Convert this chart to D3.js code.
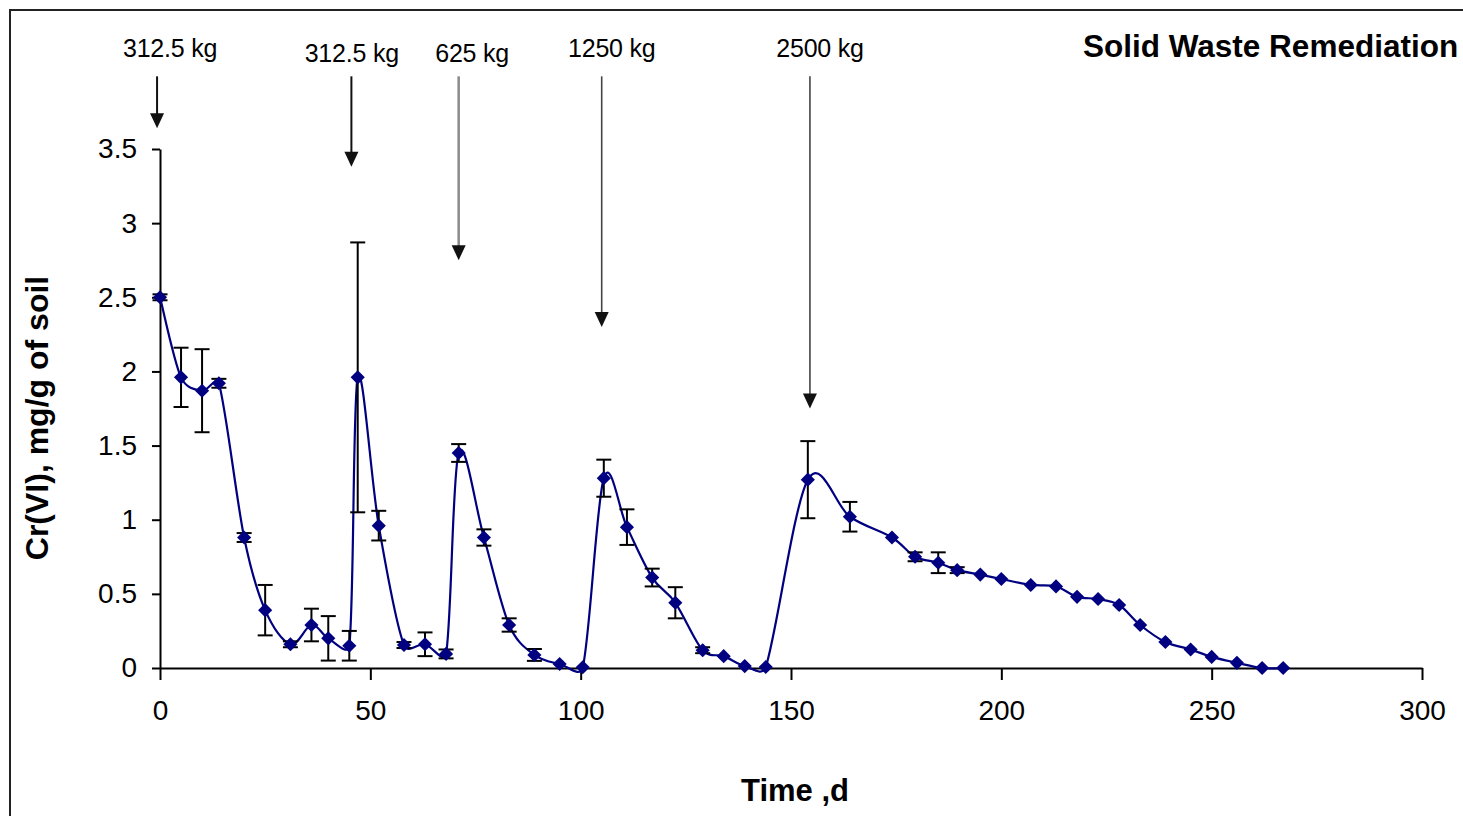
<!DOCTYPE html>
<html>
<head>
<meta charset="utf-8">
<script src="https://cdn.jsdelivr.net/npm/d3@7"></script>
<style>
  html, body { margin: 0; padding: 0; background: #fff; }
  svg { display: block; }
  text { font-family: Arial, "Liberation Sans", sans-serif; }
</style>
</head>
<body>
<svg id="chart" width="1463" height="816"></svg>
<script>
// Sampling days
const days = [0, 5, 10, 14, 20, 25, 31, 36, 40, 45, 47, 52, 58, 63, 68, 71, 77, 83, 89, 95,
              100.5, 105.5, 111, 117, 122.5, 129, 134, 139, 144, 154, 164, 174, 179.5, 185,
              189.5, 195, 200, 207, 213, 218, 223, 228, 233, 239, 245, 250, 256, 262, 267];
// Cr(VI) concentration, mg/g of soil
const crVI = [2.50, 1.96, 1.87, 1.92, 0.88, 0.39, 0.16, 0.29, 0.20, 0.15, 1.96, 0.96, 0.155, 0.16, 0.095, 1.45, 0.88, 0.29, 0.088, 0.027,
              0.005, 1.28, 0.95, 0.61, 0.44, 0.12, 0.08, 0.013, 0.007, 1.27, 1.02, 0.88, 0.75, 0.71,
              0.66, 0.63, 0.60, 0.56, 0.55, 0.48, 0.465, 0.425, 0.29, 0.175, 0.125, 0.075, 0.035, 0.0, 0.0];
// Standard deviation (0 = no bar)
const crErr = [0.02, 0.20, 0.28, 0.03, 0.03, 0.17, 0.02, 0.11, 0.15, 0.10, 0.91, 0.10, 0.02, 0.08, 0.03, 0.06, 0.055, 0.045, 0.04, 0,
               0, 0.125, 0.12, 0.06, 0.105, 0.02, 0, 0, 0, 0.26, 0.10, 0, 0.03, 0.07,
               0.02, 0, 0, 0, 0, 0, 0, 0, 0, 0, 0, 0, 0, 0, 0];

// Waste additions
const doseLabels = ["312.5 kg", "312.5 kg", "625 kg", "1250 kg", "2500 kg"];
const doseDay = [-0.7, 45.5, 71, 105, 154.5];
const doseLabelDay = [2.4, 45.6, 74.2, 107.4, 156.9];
const doseArrowTip = [3.64, 3.38, 2.75, 2.30, 1.75];
const doseArrowTop = 3.99;

const xTicks = [0, 50, 100, 150, 200, 250, 300];
const yTicks = [0, 0.5, 1, 1.5, 2, 2.5, 3, 3.5];

const chartTitle = "Solid Waste Remediation";
const xTitle = "Time ,d";
const yTitle = "Cr(VI), mg/g of soil";

// Spreadsheet-style smoothed line: cubic Bezier segments with control
// arms of 1/6 of the neighbour chord, clamped to half the segment length.
function SmoothSheet(context) { this._context = context; }
SmoothSheet.prototype = {
  areaStart() { this._line = 0; },
  areaEnd() { this._line = NaN; },
  lineStart() { this._pts = []; },
  point(px, py) { this._pts.push([+px, +py]); },
  lineEnd() {
    const p = this._pts, n = p.length, c = this._context;
    if (!n) return;
    const dist = (a, b) => Math.hypot(b[0] - a[0], b[1] - a[1]);
    c.moveTo(p[0][0], p[0][1]);
    for (let i = 0; i < n - 1; i++) {
      const p0 = p[Math.max(i - 1, 0)], p1 = p[i], p2 = p[i + 1], p3 = p[Math.min(i + 2, n - 1)];
      const d12 = dist(p1, p2), d02 = dist(p0, p2), d13 = dist(p1, p3);
      let f1 = 1 / 6, f2 = 1 / 6;
      if (d02 > 0 && d02 / 6 > d12 / 2) f1 = (d12 / 2) / d02;
      if (d13 > 0 && d13 / 6 > d12 / 2) f2 = (d12 / 2) / d13;
      c.bezierCurveTo(
        p1[0] + (p2[0] - p0[0]) * f1, p1[1] + (p2[1] - p0[1]) * f1,
        p2[0] - (p3[0] - p1[0]) * f2, p2[1] - (p3[1] - p1[1]) * f2,
        p2[0], p2[1]);
    }
  }
};
const curveSmoothSheet = ctx => new SmoothSheet(ctx);

const svg = d3.select("#chart");

// outer frame
svg.append("rect")
  .attr("x", 10).attr("y", 10)
  .attr("width", 1480).attr("height", 830)
  .attr("fill", "none").attr("stroke", "#222").attr("stroke-width", 2);

const x = d3.scaleLinear().domain([0, 300]).range([160, 1422]);
const y = d3.scaleLinear().domain([0, 3.5]).range([668, 149]);

// axes
const xAxis = svg.append("g")
  .attr("transform", `translate(0,${y(0)})`)
  .call(d3.axisBottom(x).tickValues(xTicks).tickSize(12).tickSizeOuter(0).tickPadding(20).tickFormat(d => String(d)));
const yAxis = svg.append("g")
  .attr("transform", `translate(${x(0)},0)`)
  .call(d3.axisLeft(y).tickValues(yTicks).tickSize(8).tickSizeOuter(0).tickPadding(15).tickFormat(d => String(d)));

[xAxis, yAxis].forEach(g => {
  g.select(".domain").attr("stroke", "#000").attr("stroke-width", 2);
  g.selectAll(".tick line").attr("stroke", "#000").attr("stroke-width", 2);
  g.selectAll(".tick text")
    .attr("fill", "#000")
    .style("font-family", 'Arial, "Liberation Sans", sans-serif')
    .style("font-size", "28px");
});

// series line
const pts = days.map((d, i) => ({ t: d, v: crVI[i], e: crErr[i] }));
const line = d3.line()
  .x(d => x(d.t))
  .y(d => y(d.v))
  .curve(curveSmoothSheet);

svg.append("path")
  .datum(pts)
  .attr("d", line)
  .attr("fill", "none")
  .attr("stroke", "#000080")
  .attr("stroke-width", 2.2);

// error bars
const eb = svg.append("g").attr("stroke", "#000").attr("stroke-width", 2);
const withErr = pts.filter(d => d.e > 0);
eb.selectAll("line.bar").data(withErr).join("line")
  .attr("x1", d => x(d.t)).attr("x2", d => x(d.t))
  .attr("y1", d => y(d.v + d.e)).attr("y2", d => y(d.v - d.e));
eb.selectAll("line.capTop").data(withErr).join("line")
  .attr("x1", d => x(d.t) - 7.5).attr("x2", d => x(d.t) + 7.5)
  .attr("y1", d => y(d.v + d.e)).attr("y2", d => y(d.v + d.e));
eb.selectAll("line.capBot").data(withErr).join("line")
  .attr("x1", d => x(d.t) - 7.5).attr("x2", d => x(d.t) + 7.5)
  .attr("y1", d => y(d.v - d.e)).attr("y2", d => y(d.v - d.e));

// diamond markers
const diamond = {
  draw(ctx, size) {
    const r = Math.sqrt(size / 2);
    ctx.moveTo(0, -r); ctx.lineTo(r, 0); ctx.lineTo(0, r); ctx.lineTo(-r, 0); ctx.closePath();
  }
};
svg.append("g").selectAll("path").data(pts).join("path")
  .attr("transform", d => `translate(${x(d.t)},${y(d.v)})`)
  .attr("d", d3.symbol(diamond, 100))
  .attr("fill", "#000080");

// dose annotations
const arrowColor = ["#111", "#111", "#8a8a8a", "#444", "#444"];
const arrowWidth = [2, 2, 2.5, 1.6, 1.6];
const labelBaseline = [57, 62, 62, 57, 57];
const ann = svg.append("g");
doseLabels.forEach((lab, i) => {
  const ax = x(doseDay[i]);
  const tip = y(doseArrowTip[i]);
  ann.append("line")
    .attr("x1", ax).attr("x2", ax)
    .attr("y1", y(doseArrowTop)).attr("y2", tip - 12)
    .attr("stroke", arrowColor[i]).attr("stroke-width", arrowWidth[i]);
  ann.append("path")
    .attr("d", `M${ax - 7},${tip - 15}L${ax + 7},${tip - 15}L${ax},${tip}Z`)
    .attr("fill", "#111");
  ann.append("text")
    .attr("x", x(doseLabelDay[i])).attr("y", labelBaseline[i])
    .attr("text-anchor", "middle")
    .style("font-size", "25px")
    .style("letter-spacing", "-0.2px")
    .attr("fill", "#000")
    .text(lab);
});

// titles
svg.append("text")
  .attr("x", 1083).attr("y", 57)
  .style("font-size", "31.5px").style("font-weight", "bold")
  .attr("fill", "#000")
  .text(chartTitle);

svg.append("text")
  .attr("x", 795).attr("y", 801)
  .attr("text-anchor", "middle")
  .style("font-size", "31px").style("font-weight", "bold")
  .attr("fill", "#000")
  .text(xTitle);

svg.append("text")
  .attr("transform", "translate(48,418) rotate(-90)")
  .attr("text-anchor", "middle")
  .style("font-size", "32px").style("font-weight", "bold")
  .attr("fill", "#000")
  .text(yTitle);
</script>
</body>
</html>
